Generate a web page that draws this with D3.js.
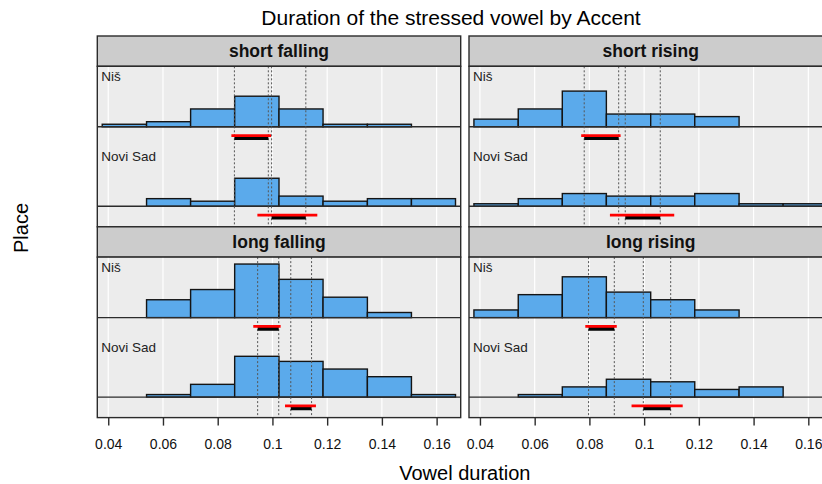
<!DOCTYPE html>
<html>
<head>
<meta charset="utf-8">
<script src="https://cdn.jsdelivr.net/npm/d3@7"></script>
<style>
    body { margin: 0; background: #fff; }
    svg { display: block; font-family: "Liberation Sans", Arial, sans-serif; }
</style>
</head>
<body>
<div id="chart"></div>
<script>
// panels, in reading order
const accents = ["short falling", "short rising", "long falling", "long rising"];
const places = ["Niš", "Novi Sad"];

// histogram breaks shared by all panels
const binBreaks = [0.0378, 0.0540, 0.0701, 0.0862, 0.1024, 0.1185, 0.1347, 0.1508, 0.1669];

// bin counts per accent (one row per accent)
const countsNis = [
    [1, 2, 7, 12, 7, 1, 1, 0],
    [3, 7, 14, 5, 5, 4, 0, 0],
    [0, 7, 11, 21, 15, 8, 2, 0],
    [3, 9, 16, 10, 7, 3, 0, 0]
];
const countsNoviSad = [
    [0, 3, 2, 11, 4, 2, 3, 3],
    [1, 3, 5, 4, 4, 5, 1, 1],
    [0, 1, 5, 16, 14, 11, 8, 1],
    [0, 1, 4, 7, 6, 3, 4, 0]
];

// intervals under each histogram: outer (red) and inner (black)
const outerNis = [[0.0850, 0.0995], [0.0770, 0.0914], [0.0930, 0.1030], [0.0785, 0.0900]];
const innerNis = [[0.0861, 0.0985], [0.0781, 0.0907], [0.0946, 0.1023], [0.0797, 0.0891]];
const outerNoviSad = [[0.0945, 0.1164], [0.0875, 0.1110], [0.1046, 0.1159], [0.0954, 0.1141]];
const innerNoviSad = [[0.0997, 0.1122], [0.0931, 0.1059], [0.1067, 0.1143], [0.0997, 0.1097]];

const xTicks = [0.04, 0.06, 0.08, 0.10, 0.12, 0.14, 0.16];

const width = 822;
const height = 484;
const left = 97.3;
const panelW = 363.4;
const gapX = 8.3;
const top0 = 36;
const stripH = 30.3;
const bodyH = 160.5;
const baseOffset = [60.5, 140];   // histogram baseline inside a panel, per place
const labelOffset = [10, 89.5];

const x = d3.scaleLinear().domain([0.0360, 0.1688]).range([0, panelW]);
const yCount = d3.scaleLinear().domain([0, 20]).range([0, 51]);

const svg = d3.select("#chart").append("svg")
    .attr("width", width)
    .attr("height", height);

svg.append("text")
    .attr("x", 451)
    .attr("y", 25)
    .attr("text-anchor", "middle")
    .style("font-size", "21px")
    .text("Duration of the stressed vowel by Accent");

svg.append("clipPath").attr("id", "panel-clip")
    .append("rect").attr("width", panelW).attr("height", bodyH);

accents.forEach(function (accent, i) {
    const col = i % 2;
    const row = Math.floor(i / 2);
    const x0 = left + col * (panelW + gapX);
    const stripTop = top0 + row * (stripH + bodyH);
    const bodyTop = stripTop + stripH;

    // strip
    const strip = svg.append("g").attr("transform", "translate(" + x0 + "," + stripTop + ")");
    strip.append("rect")
        .attr("width", panelW).attr("height", stripH)
        .style("fill", "#cccccc").style("stroke", "#2b2b2b").style("stroke-width", 1.4);
    strip.append("text")
        .attr("x", panelW / 2).attr("y", stripH / 2 + 6)
        .attr("text-anchor", "middle")
        .style("font-size", "17.5px").style("font-weight", "bold").style("fill", "#111")
        .text(accent);

    const panel = svg.append("g").attr("transform", "translate(" + x0 + "," + bodyTop + ")");
    panel.append("rect")
        .attr("width", panelW).attr("height", bodyH)
        .style("fill", "#ececec");

    const inner = panel.append("g").attr("clip-path", "url(#panel-clip)");

    inner.selectAll(".grid")
        .data(xTicks)
        .enter().append("line")
        .attr("x1", d => x(d)).attr("x2", d => x(d))
        .attr("y1", 0).attr("y2", bodyH)
        .style("stroke", "#fff").style("stroke-width", 1.2);

    const groups = [
        {counts: countsNis[i], outer: outerNis[i], inner: innerNis[i]},
        {counts: countsNoviSad[i], outer: outerNoviSad[i], inner: innerNoviSad[i]}
    ];

    groups.forEach(function (grp, p) {
        const base = baseOffset[p];
        const bins = grp.counts.map((c, k) => ({c: c, x0: binBreaks[k], x1: binBreaks[k + 1]}))
            .filter(b => b.c > 0);
        inner.selectAll(".bar" + p)
            .data(bins)
            .enter().append("rect")
            .attr("x", d => x(d.x0))
            .attr("width", d => x(d.x1) - x(d.x0))
            .attr("y", d => base - yCount(d.c))
            .attr("height", d => yCount(d.c))
            .style("fill", "#5baaeb")
            .style("stroke", "#141414")
            .style("stroke-width", 1.4);
        inner.append("line")
            .attr("x1", 0).attr("x2", panelW)
            .attr("y1", base).attr("y2", base)
            .style("stroke", "#2b2b2b").style("stroke-width", 1.4);
    });

    // dotted guides at the ends of the inner intervals
    const guides = [innerNis[i][0], innerNis[i][1], innerNoviSad[i][0], innerNoviSad[i][1]];
    inner.selectAll(".guide")
        .data(guides)
        .enter().append("line")
        .attr("x1", d => x(d)).attr("x2", d => x(d))
        .attr("y1", 0).attr("y2", bodyH)
        .style("stroke", "#555").style("stroke-width", 1)
        .style("stroke-dasharray", "2,2");

    groups.forEach(function (grp, p) {
        const base = baseOffset[p];
        inner.append("line")
            .attr("x1", x(grp.inner[0])).attr("x2", x(grp.inner[1]))
            .attr("y1", base + 11.3).attr("y2", base + 11.3)
            .style("stroke", "#000").style("stroke-width", 3.6);
        inner.append("line")
            .attr("x1", x(grp.outer[0])).attr("x2", x(grp.outer[1]))
            .attr("y1", base + 8.8).attr("y2", base + 8.8)
            .style("stroke", "#ff0000").style("stroke-width", 2.6);
        panel.append("text")
            .attr("x", 4).attr("y", labelOffset[p] + 5)
            .style("font-size", "13.5px").style("fill", "#222")
            .text(places[p]);
    });

    panel.append("rect")
        .attr("width", panelW).attr("height", bodyH)
        .style("fill", "none").style("stroke", "#2b2b2b").style("stroke-width", 1.4);

    if (row === 1) {
        const axis = svg.append("g")
            .attr("transform", "translate(" + x0 + "," + (bodyTop + bodyH) + ")")
            .call(d3.axisBottom(x).tickValues(xTicks).tickFormat(d3.format("~g"))
                .tickSize(8).tickPadding(13));
        axis.select(".domain").remove();
        axis.selectAll(".tick line").style("stroke", "#2b2b2b").style("stroke-width", 1.4);
        axis.selectAll(".tick text")
            .style("font-size", "14px").style("fill", "#111")
            .style("font-family", "\"Liberation Sans\", Arial, sans-serif");
    }
});

svg.append("text")
    .attr("x", left + (2 * panelW + gapX) / 2)
    .attr("y", 480)
    .attr("text-anchor", "middle")
    .style("font-size", "20px")
    .text("Vowel duration");

svg.append("text")
    .attr("transform", "translate(28,228) rotate(-90)")
    .attr("text-anchor", "middle")
    .style("font-size", "20px")
    .text("Place");
</script>
</body>
</html>
